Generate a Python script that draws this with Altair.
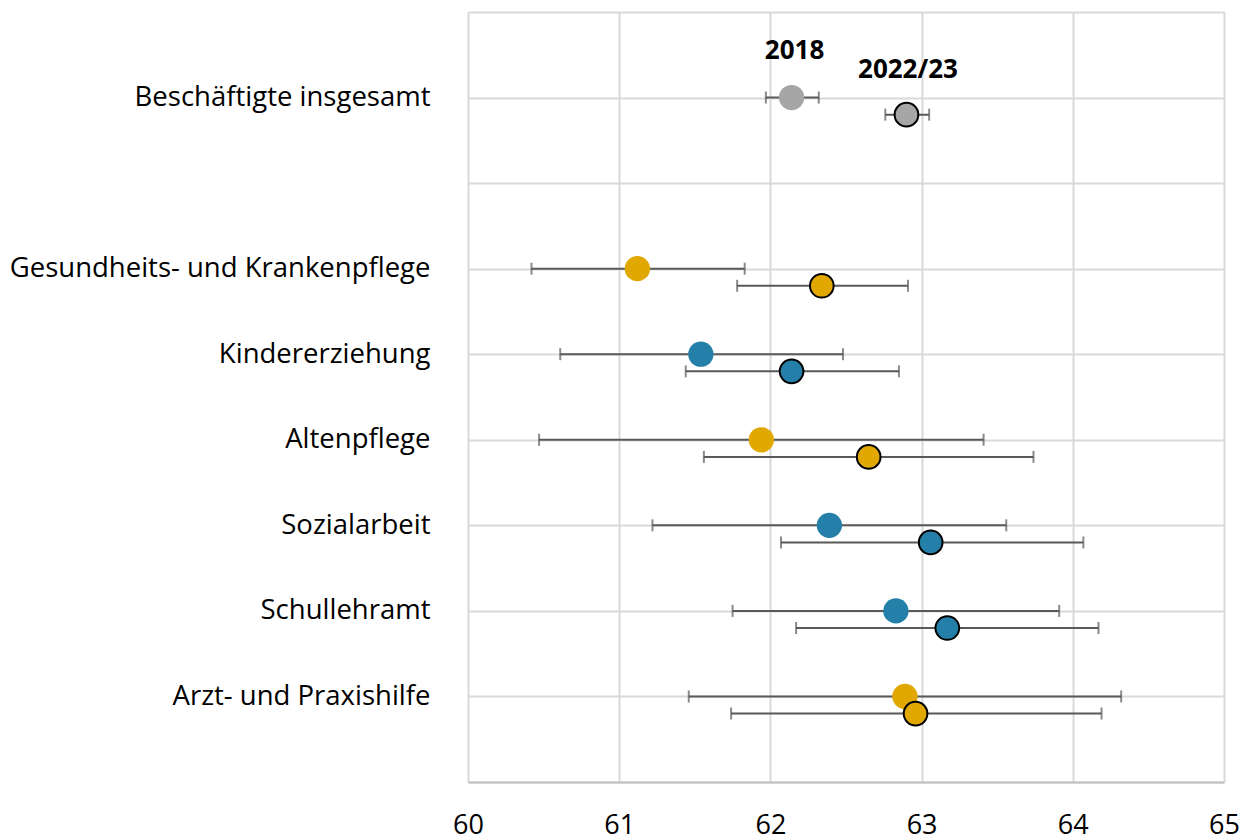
import altair as alt
import pandas as pd

categories = ["Beschäftigte insgesamt", "Gesundheits- und Krankenpflege", "Kindererziehung",
              "Altenpflege", "Sozialarbeit", "Schullehramt", "Arzt- und Praxishilfe"]
row_pos = [8, 6, 5, 4, 3, 2, 1]
groups = ["gesamt", "gelb", "blau", "gelb", "blau", "blau", "gelb"]

mean_2018 = [62.14, 61.12, 61.54, 61.94, 62.39, 62.83, 62.89]
lo_2018 = [61.97, 60.42, 60.61, 60.47, 61.22, 61.75, 61.46]
hi_2018 = [62.32, 61.83, 62.48, 63.41, 63.56, 63.91, 64.32]

mean_2022 = [62.90, 62.34, 62.14, 62.65, 63.06, 63.17, 62.96]
lo_2022 = [62.76, 61.78, 61.44, 61.56, 62.07, 62.17, 61.74]
hi_2022 = [63.05, 62.91, 62.85, 63.74, 64.07, 64.17, 64.19]

years = ["2018", "2022/23"]
year_offset = [0.0, 0.2]

annot_text = ["2018", "2022/23"]
annot_x = [62.16, 62.91]
annot_y = [8.55, 8.32]

group_domain = ["gesamt", "gelb", "blau"]
group_colors = ["#A6A6A6", "#E0A800", "#2480A8"]

x_ticks = [60, 61, 62, 63, 64, 65]

rows = []
for yi, (yr, off) in enumerate(zip(years, year_offset)):
    means = mean_2018 if yi == 0 else mean_2022
    los = lo_2018 if yi == 0 else lo_2022
    his = hi_2018 if yi == 0 else hi_2022
    for c, p, g, m, lo, hi in zip(categories, row_pos, groups, means, los, his):
        rows.append({"cat": c, "year": yr, "ypos": p - off, "group": g,
                     "mean": m, "lo": lo, "hi": hi})
df = pd.DataFrame(rows)
ann = pd.DataFrame({"t": annot_text, "x": annot_x, "y": annot_y})

label_map = {p: c for p, c in zip(row_pos, categories)}
expr = " : ".join([f"datum.value == {p} ? '{c}'" for p, c in label_map.items()]) + " : ''"

FONT = "Open Sans"

xscale = alt.Scale(domain=[60, 65], nice=False, zero=False)
yscale = alt.Scale(domain=[0, 9], nice=False, zero=False)

xaxis = alt.Axis(values=x_ticks, format="d", title=None, grid=True, gridColor="#D9D9D9",
                 gridWidth=2, ticks=False, domain=True, domainColor="#BFBFBF", domainWidth=2,
                 labelFont=FONT, labelFontSize=27, labelColor="black", labelPadding=30,
                 labelFlush=False)
yaxis = alt.Axis(values=list(range(0, 10)), title=None, grid=True, gridColor="#D9D9D9",
                 gridWidth=2, ticks=False, domain=False, labelExpr=expr,
                 labelFont=FONT, labelFontSize=27.5, labelColor="black", labelPadding=38,
                 labelLimit=0)

base = alt.Chart(df)

rule = base.mark_rule(color="#595959", strokeWidth=2).encode(
    x=alt.X("lo:Q", scale=xscale, axis=xaxis),
    x2="hi:Q",
    y=alt.Y("ypos:Q", scale=yscale, axis=yaxis),
)
cap_lo = base.mark_tick(orient="vertical", size=12, thickness=2, color="#595959").encode(
    x=alt.X("lo:Q", scale=xscale), y=alt.Y("ypos:Q", scale=yscale))
cap_hi = base.mark_tick(orient="vertical", size=12, thickness=2, color="#595959").encode(
    x=alt.X("hi:Q", scale=xscale), y=alt.Y("ypos:Q", scale=yscale))

color = alt.Color("group:N", scale=alt.Scale(domain=group_domain, range=group_colors), legend=None)

pts18 = base.transform_filter(alt.datum.year == "2018").mark_circle(size=640, opacity=1).encode(
    x=alt.X("mean:Q", scale=xscale), y=alt.Y("ypos:Q", scale=yscale), color=color)
pts22 = base.transform_filter(alt.datum.year == "2022/23").mark_circle(
    size=560, opacity=1, stroke="black", strokeWidth=2).encode(
    x=alt.X("mean:Q", scale=xscale), y=alt.Y("ypos:Q", scale=yscale), color=color)

labels = alt.Chart(ann).mark_text(font=FONT, fontSize=26, fontWeight="bold", color="black",
                                  align="center", baseline="middle").encode(
    x=alt.X("x:Q", scale=xscale), y=alt.Y("y:Q", scale=yscale), text="t:N")

chart = alt.layer(rule, cap_lo, cap_hi, pts18, pts22, labels).properties(
    width=756, height=770,
    autosize=alt.AutoSizeParams(type="none"),
    padding={"left": 460, "top": 4, "right": 22, "bottom": 66},
).configure_view(stroke=None).configure(background="white")

chart.save("out.html", embed_options={"renderer": "svg", "actions": False})
